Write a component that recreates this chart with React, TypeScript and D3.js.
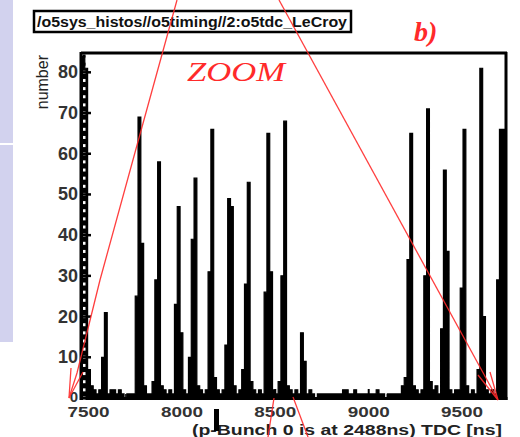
import React from "react";
import * as d3 from "d3";

const binStart = 7465;
const binWidth = 15;
const counts: number[] = [
  84, 81, 7, 3, 2, 1, 2, 10, 21, 1,
  2, 2, 1, 2, 1, 0, 1, 1, 1, 25,
  69, 38, 3, 1, 1, 4, 29, 58, 3, 2,
  1, 2, 1, 23, 47, 16, 2, 1, 10, 39,
  54, 3, 2, 1, 2, 31, 66, 5, 2, 1,
  2, 13, 49, 47, 3, 1, 2, 7, 28, 53,
  4, 2, 1, 2, 1, 26, 65, 31, 2, 1,
  4, 30, 68, 3, 2, 1, 2, 1, 16, 9,
  1, 2, 1, 0, 1, 1, 1, 1, 1, 1,
  1, 1, 1, 2, 2, 1, 1, 2, 1, 1,
  1, 1, 1, 1, 1, 2, 1, 1, 0, 1,
  1, 1, 1, 1, 3, 5, 34, 65, 3, 2,
  1, 2, 30, 71, 4, 2, 3, 1, 17, 56,
  36, 2, 1, 2, 2, 27, 66, 3, 1, 2,
  1, 7, 81, 20, 2, 1, 2, 1, 29, 66,
  66,
];
const xTicks = [7500, 8000, 8500, 9000, 9500];
const yTicks = [0, 10, 20, 30, 40, 50, 60, 70, 80];
const titleText = "/o5sys_histos//o5timing//2:o5tdc_LeCroy";
const xLabel = "(p-Bunch 0 is at 2488ns) TDC [ns]";
const yLabel = "number";

const RED = "#ff2a2a";

export default function App() {
  const left = 82, right = 506, top = 54, bottom = 398;
  const x = d3.scaleLinear().domain([7465, 9735]).range([left, right]);
  const y = d3.scaleLinear().domain([0, 84.5]).range([bottom, top]);

  let d = `M${x(binStart)},${y(0)}`;
  counts.forEach((c, i) => {
    const x0 = x(binStart + i * binWidth);
    const x1 = x(binStart + (i + 1) * binWidth);
    d += `L${x0},${y(c)}L${x1},${y(c)}`;
  });
  d += `L${x(binStart + counts.length * binWidth)},${y(0)}Z`;

  const minorX = d3.range(7500, 9735, 100);
  const minorY = d3.range(0, 85, 2);
  const font = "Liberation Sans, Arial, sans-serif";

  return (
    <svg width={520} height={437} style={{ position: "absolute", left: 0, top: 0, background: "#fff" }}>
      <rect x={0} y={0} width={13} height={342} fill="#d2d2ee" />
      <rect x={0} y={143} width={13} height={2} fill="#ffffff" />

      {/* title box */}
      <rect x={34} y={11} width={317} height={21} fill="#fff" stroke="#000" strokeWidth={2.5} />
      <text x={37} y={27} fontFamily={font} fontSize={14.5} fontWeight="bold" fill="#111" textLength={310} lengthAdjust="spacingAndGlyphs">{titleText}</text>

      <text x={414} y={41} fontFamily="Liberation Serif, serif" fontStyle="italic" fontWeight="bold" fontSize={28} fill={RED}>b)</text>

      {/* histogram */}
      <path d={d} fill="#000" stroke="#000" strokeWidth={1.2} strokeLinejoin="miter" />

      {/* frame */}
      <line x1={left - 1} x2={right + 1} y1={top - 1} y2={top - 1} stroke="#000" strokeWidth={3} />
      <line x1={right} x2={right} y1={top - 2} y2={bottom + 2} stroke="#000" strokeWidth={3} />
      <line x1={left - 2} x2={right + 1.5} y1={bottom + 0.5} y2={bottom + 0.5} stroke="#000" strokeWidth={3} />
      <line x1={left - 1} x2={left - 1} y1={top - 2} y2={bottom + 2} stroke="#000" strokeWidth={3} />

      {/* y ticks */}
      {minorY.map((v) => (
        <rect key={"my" + v} x={left + 1} y={y(v) - 1.5} width={2.5} height={3} fill={v >= 4 && y(v) < y(81) ? "#000" : "#fff"} />
      ))}
      {yTicks.map((v) => (
        <g key={"y" + v}>
          <line x1={left} x2={left + 9} y1={y(v)} y2={y(v)} stroke="#000" strokeWidth={2.5} />
          <text x={left - 4} y={v === 0 ? y(v) + 3.5 : y(v) + 6} textAnchor="end" fontFamily={font} fontSize={v === 0 ? 15 : 18} fontWeight="bold" fill="#333">{v}</text>
        </g>
      ))}

      {/* x ticks */}
      {minorX.map((v) => (
        <line key={"mx" + v} x1={x(v)} x2={x(v)} y1={bottom} y2={bottom - 4} stroke="#000" strokeWidth={1.5} />
      ))}
      {xTicks.map((v) => (
        <g key={"x" + v}>
          <line x1={x(v)} x2={x(v)} y1={bottom} y2={bottom - 9} stroke="#000" strokeWidth={2} />
          <text x={x(v)} y={bottom + 19} textAnchor="middle" fontFamily={font} fontSize={15} fontWeight="bold" fill="#333" textLength={42} lengthAdjust="spacingAndGlyphs">{v}</text>
        </g>
      ))}

      <text x={502} y={434.5} textAnchor="end" fontFamily={font} fontSize={14} fontWeight="bold" fill="#222" textLength={310} lengthAdjust="spacingAndGlyphs">{xLabel}</text>
      <rect x={214} y={409} width={5} height={22} fill="#000" />

      <text transform="translate(48,55) rotate(-90)" textAnchor="end" fontFamily={font} fontSize={16} fill="#222">{yLabel}</text>

      <text x={187} y={81} fontFamily="Liberation Serif, serif" fontStyle="italic" fontSize={27} fill={RED} textLength={98} lengthAdjust="spacingAndGlyphs">ZOOM</text>

      {/* red zoom lines */}
      <g stroke={RED} strokeWidth={1.3} fill="none" opacity={0.9}>
        <polyline points="177,0 142,127 100,280 77,373 69,398" />
        <polyline points="71,368 69,398 83,372" />
        <polyline points="279,0 498,400" />
        <polyline points="478,375 498,400 490,372" />
        <polyline points="274,398 268,437" />
        <polyline points="293,397 308,437" />
      </g>
    </svg>
  );
}
